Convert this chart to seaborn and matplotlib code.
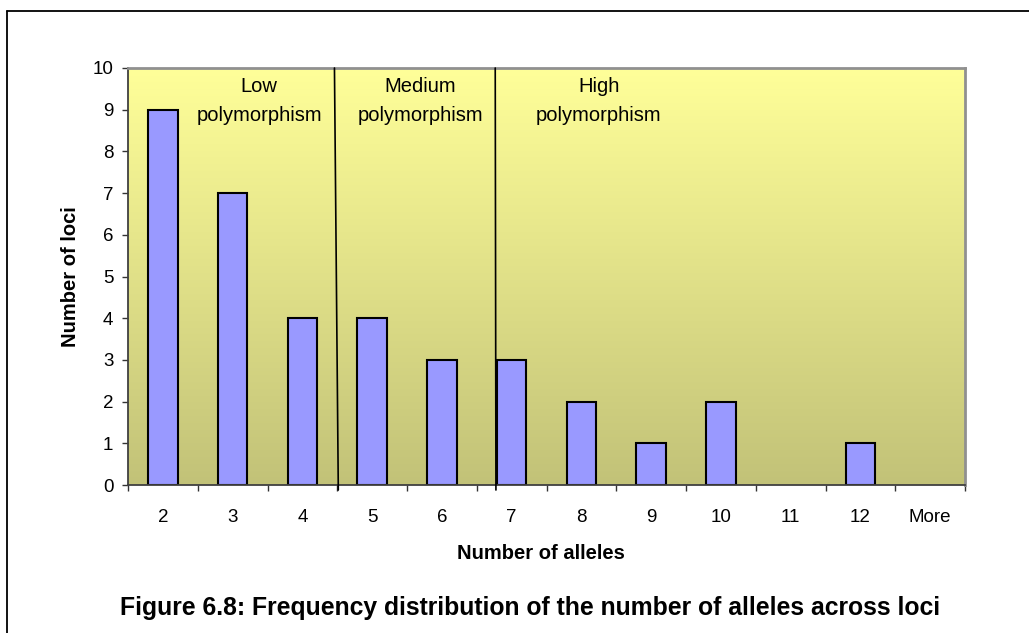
import numpy as np
import matplotlib
matplotlib.use("Agg")
import matplotlib.pyplot as plt
from matplotlib.lines import Line2D
from matplotlib.colors import LinearSegmentedColormap
import seaborn as sns

categories = ["2", "3", "4", "5", "6", "7", "8", "9", "10", "11", "12", "More"]
values = [9, 7, 4, 4, 3, 3, 2, 1, 2, 0, 1, 0]
y_ticks = [0, 1, 2, 3, 4, 5, 6, 7, 8, 9, 10]
region_labels = ["Low\npolymorphism", "Medium\npolymorphism", "High\npolymorphism"]

sns.set_theme(style="white")
plt.rcParams["font.family"] = ["Liberation Sans", "DejaVu Sans"]
plt.rcParams["text.color"] = "black"
plt.rcParams["axes.labelcolor"] = "black"

W, H = 1029, 633
fig = plt.figure(figsize=(W / 100, H / 100), dpi=100)
ax = fig.add_axes([128 / W, 1 - 485 / H, (965 - 128) / W, (485 - 68) / H])

# gradient background
n = len(categories)
cmap = LinearSegmentedColormap.from_list("bg", ["#C2C278", "#FFFF99"])
grad = np.linspace(1, 0, 256).reshape(-1, 1)
ax.imshow(grad, cmap=cmap, aspect="auto", extent=[-0.5, n - 0.5, 0, 10],
          zorder=0, interpolation="bilinear")

sns.barplot(x=categories, y=values, color="#9999FF", saturation=1, width=0.42,
            edgecolor="black", linewidth=1.5, ax=ax, zorder=2)
for p in ax.patches:
    if p.get_height() == 0:
        p.set_visible(False)

ax.set_xlim(-0.5, n - 0.5)
ax.set_ylim(0, 10)

# x ticks: marks at boundaries, labels at centers
ax.set_xticks(np.arange(-0.5, n, 1.0))
ax.set_xticklabels([])
ax.set_xticks(np.arange(n), minor=True)
ax.set_xticklabels(categories, minor=True, fontsize=13.5)
ax.tick_params(axis="x", which="major", direction="out", length=4.5, width=1,
               color="#333333", bottom=True)
ax.tick_params(axis="x", which="minor", length=0, pad=17, labelcolor="black")
ax.set_yticks(y_ticks)
ax.set_yticklabels([str(v) for v in y_ticks], fontsize=13.5)
ax.tick_params(axis="y", direction="out", length=4.5, width=1, color="#333333",
               left=True, pad=6, labelcolor="black")

for s in ["left", "bottom"]:
    ax.spines[s].set_color("#404040")
    ax.spines[s].set_linewidth(1.3)
for s in ["top", "right"]:
    ax.spines[s].set_color("#909090")
    ax.spines[s].set_linewidth(2)
ax.grid(False)

# region separators
ax.add_line(Line2D([2.46, 2.515], [10, -0.12], color="black", lw=1.2,
                   clip_on=False, zorder=3))
ax.add_line(Line2D([4.765, 4.775], [10, -0.12], color="black", lw=1.2,
                   clip_on=False, zorder=3))

# region labels
for xpos, lab in zip([1.38, 3.69, 6.25], region_labels):
    ax.text(xpos, 9.21, lab, ha="center", va="center", fontsize=14.5,
            linespacing=1.65, color="black", zorder=4)

ax.set_xlabel("Number of alleles", fontsize=14.5, fontweight="bold", labelpad=13)
ax.xaxis.label.set_x(0.4934)
ax.set_ylabel("Number of loci", fontsize=14.5, fontweight="bold", labelpad=9)

fig.text(530.5 / W, 1 - 608 / H,
         "Figure 6.8: Frequency distribution of the number of alleles across loci",
         ha="center", va="center", fontsize=17.8, fontweight="bold")

# outer border (top and left only visible)
fig.add_artist(Line2D([7 / W, 1.0], [1 - 11 / H, 1 - 11 / H],
                      transform=fig.transFigure, color="black", lw=1.3))
fig.add_artist(Line2D([7 / W, 7 / W], [1 - 11 / H, 0],
                      transform=fig.transFigure, color="black", lw=1.3))

fig.savefig("out.png", dpi=100)
